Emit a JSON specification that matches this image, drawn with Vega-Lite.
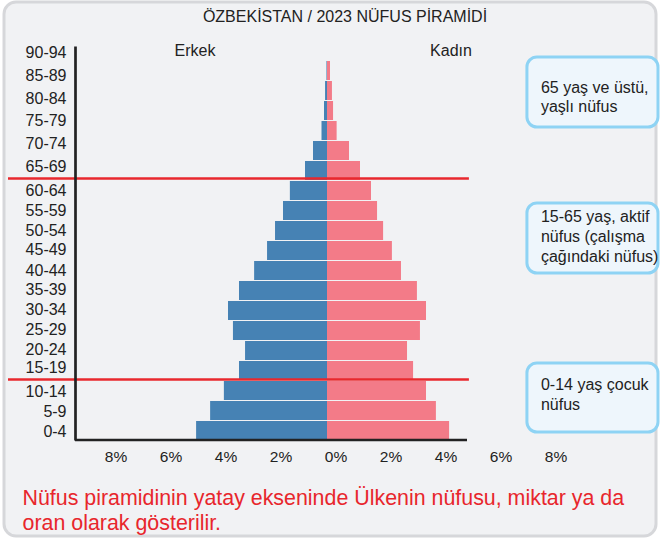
{
  "$schema": "https://vega.github.io/schema/vega-lite/v6.json",
  "width": 495,
  "height": 394,
  "autosize": "none",
  "padding": {"left": 75, "top": 46, "right": 90, "bottom": 99},
  "background": "#ffffff",
  "config": {"font": "Liberation Sans", "view": {"stroke": null}},
  "data": {
    "values": [
      {"age": "0-4", "age_start": 0, "age_end": 5, "male": 4.76, "female": 4.44},
      {"age": "5-9", "age_start": 5, "age_end": 10, "male": 4.25, "female": 3.96},
      {"age": "10-14", "age_start": 10, "age_end": 15, "male": 3.75, "female": 3.6},
      {"age": "15-19", "age_start": 15, "age_end": 20, "male": 3.2, "female": 3.13},
      {"age": "20-24", "age_start": 20, "age_end": 25, "male": 2.98, "female": 2.91},
      {"age": "25-29", "age_start": 25, "age_end": 30, "male": 3.42, "female": 3.38},
      {"age": "30-34", "age_start": 30, "age_end": 35, "male": 3.6, "female": 3.6},
      {"age": "35-39", "age_start": 35, "age_end": 40, "male": 3.2, "female": 3.27},
      {"age": "40-44", "age_start": 40, "age_end": 45, "male": 2.65, "female": 2.69},
      {"age": "45-49", "age_start": 45, "age_end": 50, "male": 2.18, "female": 2.36},
      {"age": "50-54", "age_start": 50, "age_end": 55, "male": 1.89, "female": 2.04},
      {"age": "55-59", "age_start": 55, "age_end": 60, "male": 1.6, "female": 1.82},
      {"age": "60-64", "age_start": 60, "age_end": 65, "male": 1.35, "female": 1.6},
      {"age": "65-69", "age_start": 65, "age_end": 70, "male": 0.8, "female": 1.2},
      {"age": "70-74", "age_start": 70, "age_end": 75, "male": 0.51, "female": 0.8},
      {"age": "75-79", "age_start": 75, "age_end": 80, "male": 0.2, "female": 0.35},
      {"age": "80-84", "age_start": 80, "age_end": 85, "male": 0.11, "female": 0.22},
      {"age": "85-89", "age_start": 85, "age_end": 90, "male": 0.07, "female": 0.18},
      {"age": "90-94", "age_start": 90, "age_end": 95, "male": 0.02, "female": 0.11}
    ]
  },
  "layer": [
    {
      "data": {"values": [{}]},
      "mark": {"type": "rect", "fill": "#f1f2f4", "stroke": "#d6d7da", "strokeWidth": 3, "cornerRadius": 12},
      "encoding": {
        "x": {"datum": -11.745, "type": "quantitative", "scale": {"domain": [-9.1636, 8.8364], "nice": false, "zero": false}, "axis": null},
        "x2": {"datum": 11.964},
        "y": {"datum": 109.5, "type": "quantitative", "scale": {"domain": [0, 98.5], "nice": false, "zero": false}},
        "y2": {"datum": -24}
      }
    },
    {
      "mark": {"type": "bar", "color": "#4682b4", "binSpacing": 1},
      "encoding": {
        "x": {"field": "male", "type": "quantitative", "scale": {"domain": [-8.8364, 9.1636], "reverse": true, "nice": false, "zero": false}, "axis": null},
        "x2": {"datum": 0},
        "y": {
          "field": "age_start", "type": "quantitative", "bin": {"binned": true, "step": 5},
          "scale": {"domain": [0, 98.5], "nice": false, "zero": false},
          "axis": {
            "values": [97, 91.25, 85.5, 80, 74.25, 68.5, 62.5, 57.5, 52.5, 47.75, 42.5, 37.75, 32.75, 27.75, 22.75, 18.25, 12.25, 7.25, 2.25],
            "labelExpr": "min(floor((datum.value-1.5)/5)*5,90) + '-' + (min(floor((datum.value-1.5)/5)*5,90)+4)",
            "title": null, "ticks": false, "tickSize": 0, "grid": false, "zindex": 2,
            "domainColor": "#222222", "domainWidth": 2.7,
            "labelFontSize": 16, "labelColor": "#222222", "labelPadding": 9,
            "labelBound": false, "labelOverlap": false, "labelFlush": false
          }
        },
        "y2": {"field": "age_end"}
      }
    },
    {
      "layer": [
        {
          "mark": {"type": "bar", "color": "#f37b88", "binSpacing": 1},
          "encoding": {
            "x": {
              "field": "female", "type": "quantitative",
              "scale": {"domain": [-9.1636, 8.8364], "nice": false, "zero": false},
              "axis": {
                "values": [-8, -6, -4, -2, 0, 2, 4, 6, 8],
                "labelExpr": "abs(datum.value) + '%'",
                "labelOffset": 8.5, "ticks": false, "tickSize": 0, "grid": false, "zindex": 2,
                "domain": false,
                "labelFontSize": 15.5, "labelColor": "#222222", "labelPadding": 9,
                "labelBound": false, "labelFlush": false, "labelOverlap": false,
                "title": ["Nüfus piramidinin yatay ekseninde Ülkenin nüfusu, miktar ya da", "oran olarak gösterilir."],
                "titleColor": "#e8262c", "titleFontSize": 21.4, "titleFontWeight": "normal",
                "titleAlign": "left", "titleAnchor": "start", "titleBaseline": "alphabetic",
                "titleX": -53, "titleY": 64, "titleLineHeight": 25
              }
            },
            "x2": {"datum": 0},
            "y": {"field": "age_start", "type": "quantitative", "bin": {"binned": true, "step": 5}},
            "y2": {"field": "age_end"}
          }
        },
        {
          "data": {"values": [{}]},
          "mark": {"type": "rule", "color": "#222222", "strokeWidth": 2.7},
          "encoding": {"x": {"datum": -9.1636, "type": "quantitative"}, "x2": {"datum": 5.0909}, "y": {"datum": 0, "type": "quantitative"}}
        },
        {
          "data": {"values": [{}]},
          "mark": {"type": "rule", "color": "#e8282e", "strokeWidth": 2.5},
          "encoding": {"x": {"datum": -11.6, "type": "quantitative"}, "x2": {"datum": 5.16}, "y": {"datum": 65.4, "type": "quantitative"}}
        },
        {
          "data": {"values": [{}]},
          "mark": {"type": "rule", "color": "#e8282e", "strokeWidth": 2.5},
          "encoding": {"x": {"datum": -11.6, "type": "quantitative"}, "x2": {"datum": 5.16}, "y": {"datum": 15.1, "type": "quantitative"}}
        },
        {
          "data": {"values": [{}]},
          "mark": {"type": "text", "text": "ÖZBEKİSTAN / 2023 NÜFUS PİRAMİDİ", "fontSize": 16, "color": "#222222", "align": "center", "baseline": "middle"},
          "encoding": {"x": {"datum": 0.655, "type": "quantitative"}, "y": {"datum": 105.75, "type": "quantitative"}}
        },
        {
          "data": {"values": [{}]},
          "mark": {"type": "text", "text": "Erkek", "fontSize": 16, "color": "#222222", "align": "center", "baseline": "middle"},
          "encoding": {"x": {"datum": -4.8, "type": "quantitative"}, "y": {"datum": 97.25, "type": "quantitative"}}
        },
        {
          "data": {"values": [{}]},
          "mark": {"type": "text", "text": "Kadın", "fontSize": 16, "color": "#222222", "align": "center", "baseline": "middle"},
          "encoding": {"x": {"datum": 4.51, "type": "quantitative"}, "y": {"datum": 97.25, "type": "quantitative"}}
        },
        {
          "data": {"values": [{}]},
          "mark": {"type": "rect", "fill": "#eef6fc", "stroke": "#8ed3f4", "strokeWidth": 3, "cornerRadius": 10},
          "encoding": {"x": {"datum": 7.27, "type": "quantitative"}, "x2": {"datum": 12.036}, "y": {"datum": 95.75, "type": "quantitative"}, "y2": {"datum": 78.25}}
        },
        {
          "data": {"values": [{}]},
          "mark": {"type": "rect", "fill": "#eef6fc", "stroke": "#8ed3f4", "strokeWidth": 3, "cornerRadius": 10},
          "encoding": {"x": {"datum": 7.27, "type": "quantitative"}, "x2": {"datum": 12.036}, "y": {"datum": 59.25, "type": "quantitative"}, "y2": {"datum": 41.75}}
        },
        {
          "data": {"values": [{}]},
          "mark": {"type": "rect", "fill": "#eef6fc", "stroke": "#8ed3f4", "strokeWidth": 3, "cornerRadius": 10},
          "encoding": {"x": {"datum": 7.27, "type": "quantitative"}, "x2": {"datum": 12.036}, "y": {"datum": 19.25, "type": "quantitative"}, "y2": {"datum": 2}}
        },
        {
          "data": {"values": [{}]},
          "mark": {"type": "text", "text": ["65 yaş ve üstü,", "yaşlı nüfus"], "fontSize": 16, "lineHeight": 19, "color": "#222222", "align": "left", "baseline": "middle"},
          "encoding": {"x": {"datum": 7.78, "type": "quantitative"}, "y": {"datum": 88, "type": "quantitative"}}
        },
        {
          "data": {"values": [{}]},
          "mark": {"type": "text", "text": ["15-65 yaş, aktif", "nüfus (çalışma", "çağındaki nüfus)"], "fontSize": 16, "lineHeight": 20, "color": "#222222", "align": "left", "baseline": "middle"},
          "encoding": {"x": {"datum": 7.78, "type": "quantitative"}, "y": {"datum": 55.75, "type": "quantitative"}}
        },
        {
          "data": {"values": [{}]},
          "mark": {"type": "text", "text": ["0-14 yaş çocuk", "nüfus"], "fontSize": 16, "lineHeight": 19.5, "color": "#222222", "align": "left", "baseline": "middle"},
          "encoding": {"x": {"datum": 7.78, "type": "quantitative"}, "y": {"datum": 13.75, "type": "quantitative"}}
        }
      ]
    }
  ],
  "resolve": {"scale": {"x": "independent"}, "axis": {"x": "independent"}}
}
